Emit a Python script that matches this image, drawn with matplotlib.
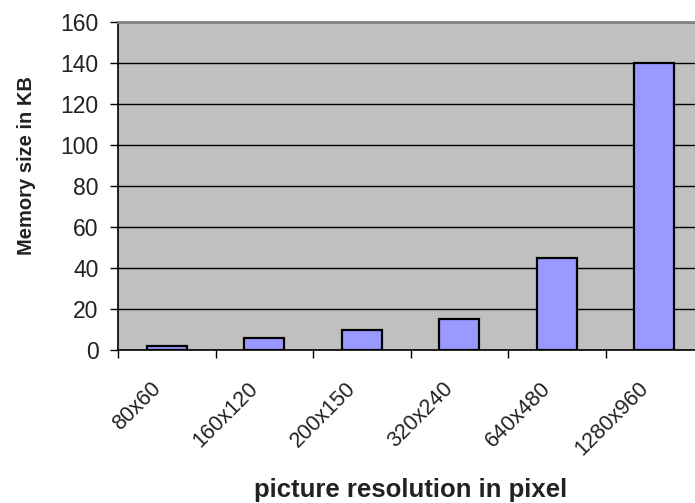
import matplotlib
matplotlib.use("Agg")
import matplotlib.pyplot as plt
import numpy as np

resolutions = ["80x60", "160x120", "200x150", "320x240", "640x480", "1280x960"]
memory_kb = [2, 6, 10, 15, 45, 140]
y_ticks = [0, 20, 40, 60, 80, 100, 120, 140, 160]

plt.rcParams['font.family'] = ['Liberation Sans', 'DejaVu Sans']

fig = plt.figure(figsize=(6.95, 5.03), dpi=100)
# plot area runs a little past the right edge, as in the reference
ax = fig.add_axes([118/695, 153/503, 585/695, 328/503])
ax.set_facecolor('#c0c0c0')

x = np.arange(len(resolutions))
ax.bar(x, memory_kb, width=0.41, color='#9999ff', edgecolor='black',
       linewidth=1.6, zorder=3)

ax.set_xlim(-0.5, len(resolutions) - 0.5)
ax.set_ylim(0, 160)
ax.set_yticks(y_ticks)
ax.yaxis.grid(True, color='black', linewidth=1)
ax.set_axisbelow(True)

# category ticks sit between the bars, labels under the bars
ax.set_xticks(np.arange(len(resolutions) + 1) - 0.5)
ax.set_xticklabels([])
ax.set_xticks(x - 0.17, minor=True)  # nudge so the rotated text ends under the bar
ax.set_xticklabels(resolutions, minor=True, rotation=45, ha='right',
                   va='top', rotation_mode='anchor', fontsize=15.5,
                   color='#222222')
ax.tick_params(axis='x', which='minor', length=0, pad=20)
ax.tick_params(axis='x', which='major', length=5.5, width=1, direction='out')
ax.tick_params(axis='y', length=6, width=1, labelsize=16.5, pad=8,
               labelcolor='#222222')

ax.spines['right'].set_visible(False)
ax.spines['top'].set_color('#808080')
ax.spines['top'].set_linewidth(2)
ax.spines['left'].set_linewidth(1.2)
ax.spines['bottom'].set_linewidth(1.2)

fig.text(27/695, 1 - 166/503, 'Memory size in KB', rotation=90,
         ha='center', va='center', fontsize=14.5, fontweight='bold',
         color='#222222')
fig.text(411/695, 1 - 497/503, 'picture resolution in pixel',
         ha='center', va='baseline', fontsize=18.5, fontweight='bold',
         color='#222222')

fig.savefig('out.png', dpi=100)
